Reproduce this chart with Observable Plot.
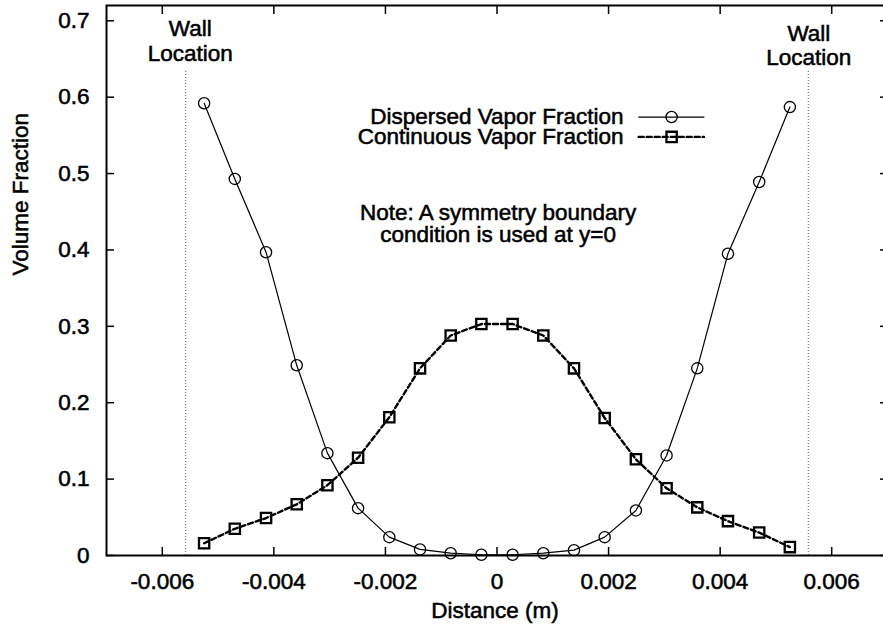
<!DOCTYPE html>
<html><head><meta charset="utf-8">
<script src="https://cdn.jsdelivr.net/npm/d3@7"></script>
<script src="https://cdn.jsdelivr.net/npm/@observablehq/plot@0.6"></script>
<style>
html,body{margin:0;padding:0;background:#fff;overflow:hidden}
#chart svg text{stroke:#000;stroke-width:0.55px;}
</style></head><body><div id="chart"></div>
<script>
// ---- data ----
const distance = [-0.00525, -0.00470, -0.00414, -0.00359, -0.00304, -0.00249, -0.00193, -0.00138, -0.00083, -0.00028,
                   0.00028,  0.00083,  0.00138,  0.00193,  0.00249,  0.00304,  0.00359,  0.00414,  0.00470,  0.00525];
const dispersedVapor  = [0.592, 0.493, 0.397, 0.249, 0.134, 0.062, 0.024, 0.008, 0.003, 0.001,
                         0.001, 0.003, 0.007, 0.024, 0.059, 0.131, 0.245, 0.395, 0.489, 0.587];
const continuousVapor = [0.016, 0.035, 0.049, 0.067, 0.092, 0.128, 0.181, 0.245, 0.288, 0.303,
                         0.303, 0.288, 0.245, 0.180, 0.126, 0.088, 0.063, 0.045, 0.030, 0.011];
const xTicks = [-0.006, -0.004, -0.002, 0, 0.002, 0.004, 0.006];
const xTickLabels = ["-0.006", "-0.004", "-0.002", "0", "0.002", "0.004", "0.006"];
const yTicks = [0, 0.1, 0.2, 0.3, 0.4, 0.5, 0.6, 0.7];
const yTickLabels = ["0", "0.1", "0.2", "0.3", "0.4", "0.5", "0.6", "0.7"];
const wallPositions = [-0.00558, 0.00558];
const seriesNames = ["Dispersed Vapor Fraction", "Continuous Vapor Fraction"];
const noteText = "Note: A symmetry boundary\ncondition is used at y=0";
const wallText = "Wall\nLocation";
const xTitle = "Distance (m)";
const yTitle = "Volume Fraction";

// ---- tables built from the arrays ----
const dispersed = distance.map((x, i) => ({x, y: dispersedVapor[i]}));
const continuous = distance.map((x, i) => ({x, y: continuousVapor[i]}));

// legend & annotation anchors (data units)
const legendY = [0.574, 0.548];
const legendLineX = [0.00254, 0.00371];
const legendMarkX = 0.00313;
const legendTextX = 0.00227;
const legendDisp = legendLineX.map(x => ({x, y: legendY[0]}));
const legendCont = legendLineX.map(x => ({x, y: legendY[1]}));

const font = "'Liberation Sans', Arial, Helvetica, sans-serif";

const plot = Plot.plot({
  width: 883,
  height: 631,
  marginLeft: 106,
  marginRight: -4,
  marginTop: 5,
  marginBottom: 76,
  style: {fontFamily: font, fontSize: "22.5px", background: "#fff", color: "#000"},
  x: {domain: [-0.007, 0.007]},
  y: {domain: [0, 0.72]},
  marks: [
    // wall locations
    Plot.ruleX(wallPositions, {x: d => d, y1: 0, y2: 0.636, stroke: "#555", strokeWidth: 1, strokeDasharray: "1,2"}),
    // continuous vapor fraction
    Plot.line(continuous, {x: "x", y: "y", stroke: "#000", strokeWidth: 2.4, strokeDasharray: "5,3"}),
    Plot.dot(continuous, {x: "x", y: "y", symbol: "square", r: 5.8, stroke: "#000", strokeWidth: 2.3, fill: "none"}),
    // dispersed vapor fraction
    Plot.line(dispersed, {x: "x", y: "y", stroke: "#000", strokeWidth: 1.2}),
    Plot.dot(dispersed, {x: "x", y: "y", r: 5.6, stroke: "#000", strokeWidth: 1.3, fill: "none"}),
    // axes
    Plot.axisX(xTicks, {anchor: "bottom", tickSize: -8, tickPadding: 26, strokeWidth: 1.5,
      tickFormat: d => xTickLabels[xTicks.indexOf(d)], label: null}),
    Plot.axisX(xTicks, {anchor: "top", tickSize: -8, strokeWidth: 1.5, tickFormat: () => "", label: null}),
    Plot.axisY(yTicks, {anchor: "left", tickSize: -8, tickPadding: 25, strokeWidth: 1.5,
      tickFormat: d => yTickLabels[yTicks.indexOf(d)], label: null}),
    Plot.axisY(yTicks, {anchor: "right", tickSize: -8, strokeWidth: 1.5, tickFormat: () => "", label: null}),
    Plot.frame({stroke: "#000", strokeWidth: 2}),
    // axis titles
    Plot.text([yTitle], {frameAnchor: "left", dx: -86, dy: -5, rotate: -90, text: d => d, fill: "#000"}),
    Plot.text([xTitle], {frameAnchor: "bottom", dx: -2, dy: 62, text: d => d, fill: "#000"}),
    // wall labels
    Plot.text([wallText], {x: -0.0055, y: 0.6737, text: d => d, lineHeight: 1.09, fill: "#000"}),
    Plot.text([wallText], {x: 0.00559, y: 0.668, text: d => d, lineHeight: 1.09, fill: "#000"}),
    // note
    Plot.text([noteText], {x: 0.00002, y: 0.4338, text: d => d, lineHeight: 0.95, fill: "#000"}),
    // legend
    Plot.text(seriesNames, {x: legendTextX, y: (d, i) => legendY[i], text: d => d, textAnchor: "end", fill: "#000"}),
    Plot.line(legendDisp, {x: "x", y: "y", stroke: "#000", strokeWidth: 1.2}),
    Plot.dot([legendMarkX], {x: d => d, y: legendY[0], r: 5.6, stroke: "#000", strokeWidth: 1.3, fill: "none"}),
    Plot.line(legendCont, {x: "x", y: "y", stroke: "#000", strokeWidth: 2.4, strokeDasharray: "5,3"}),
    Plot.dot([legendMarkX], {x: d => d, y: legendY[1], symbol: "square", r: 5.8, stroke: "#000", strokeWidth: 2.3, fill: "none"})
  ]
});
document.getElementById("chart").appendChild(plot);
</script>
</body></html>
